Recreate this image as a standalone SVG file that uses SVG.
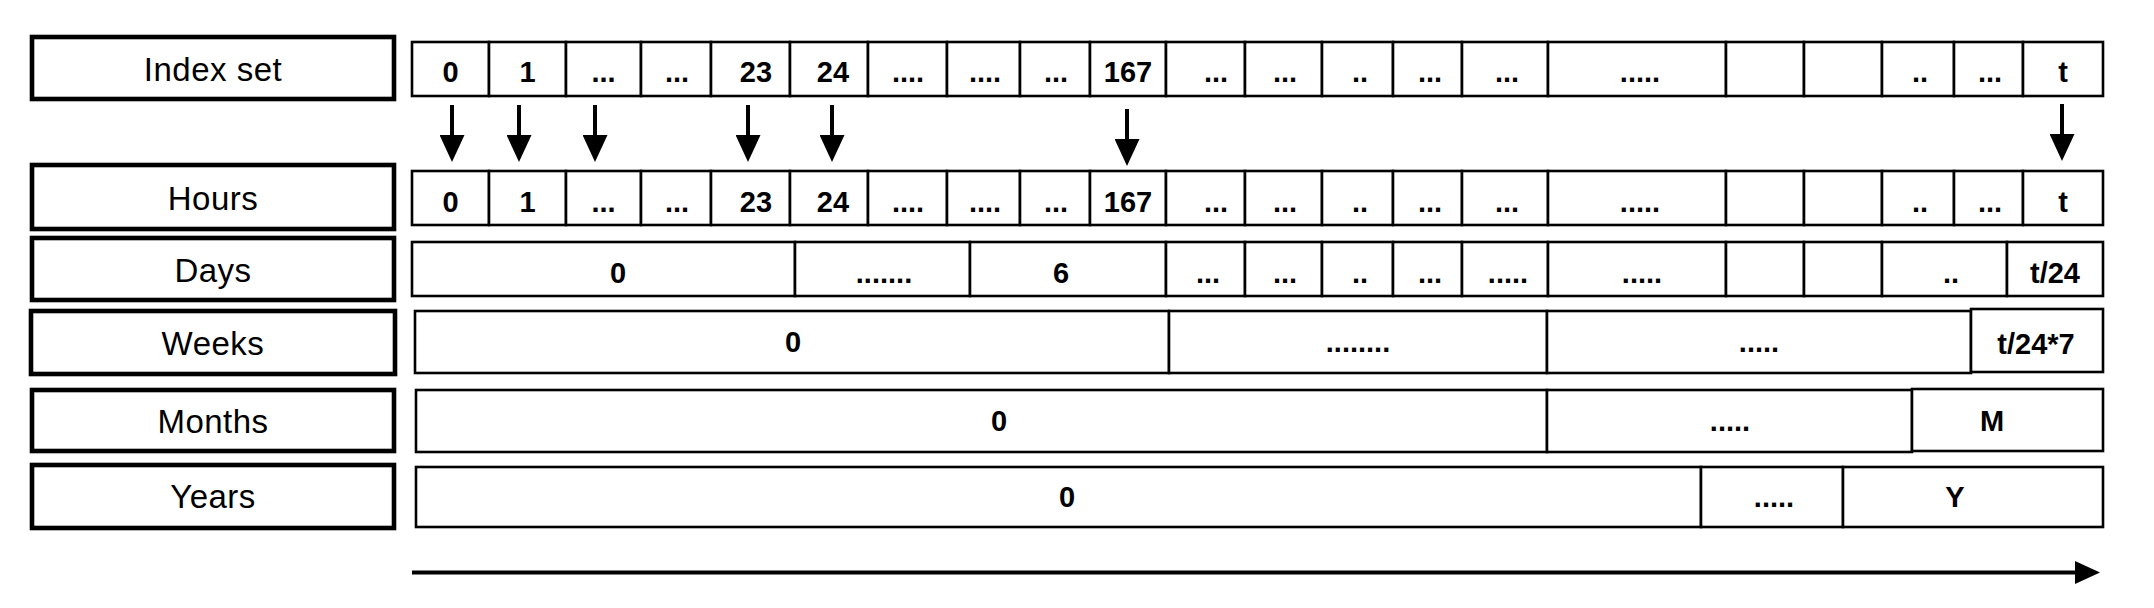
<svg xmlns="http://www.w3.org/2000/svg" width="2154" height="608" viewBox="0 0 2154 608">
<style>
.lb{fill:#fff;stroke:#000;stroke-width:4.6}
.c{fill:#fff;stroke:#000;stroke-width:2.6}
.lt{font-family:"Liberation Sans",Arial,Helvetica,sans-serif;font-size:33px;letter-spacing:0.5px;text-anchor:middle;fill:#000}
.v{font-family:"Liberation Sans",Arial,Helvetica,sans-serif;font-size:29px;font-weight:bold;text-anchor:middle;fill:#000}
.ar{stroke:#000;stroke-width:4;fill:none}
</style>
<defs>
<marker id="ah" markerUnits="userSpaceOnUse" markerWidth="27" markerHeight="25" refX="7" refY="12.5" orient="auto"><path d="M0,0 L27,12.5 L0,25 z" fill="#000"/></marker>
<marker id="ah2" markerUnits="userSpaceOnUse" markerWidth="25" markerHeight="23" refX="5" refY="11.5" orient="auto"><path d="M0,0 L25,11.5 L0,23 z" fill="#000"/></marker>
</defs>
<rect width="2154" height="608" fill="#fff"/>
<g id="label-index"><rect class="lb" x="32" y="37" width="362" height="62"/><text class="lt" x="213" y="81">Index set</text></g>
<g id="label-hours"><rect class="lb" x="32" y="165" width="362" height="64"/><text class="lt" x="213" y="210">Hours</text></g>
<g id="label-days"><rect class="lb" x="32" y="238" width="362" height="62"/><text class="lt" x="213" y="282">Days</text></g>
<g id="label-weeks"><rect class="lb" x="31" y="311" width="364" height="63"/><text class="lt" x="213" y="355">Weeks</text></g>
<g id="label-months"><rect class="lb" x="32" y="390" width="362" height="61"/><text class="lt" x="213" y="433">Months</text></g>
<g id="label-years"><rect class="lb" x="32" y="465" width="362" height="63"/><text class="lt" x="213" y="508">Years</text></g>
<g id="row-index">
<rect class="c" x="412" y="42" width="77" height="54"/><text class="v" x="450.5" y="82">0</text>
<rect class="c" x="489" y="42" width="77" height="54"/><text class="v" x="527.5" y="82">1</text>
<rect class="c" x="566" y="42" width="75" height="54"/><text class="v" x="603.5" y="82">...</text>
<rect class="c" x="641" y="42" width="70" height="54"/><text class="v" x="677" y="82">...</text>
<rect class="c" x="711" y="42" width="79" height="54"/><text class="v" x="756" y="82">23</text>
<rect class="c" x="790" y="42" width="78" height="54"/><text class="v" x="833" y="82">24</text>
<rect class="c" x="868" y="42" width="79" height="54"/><text class="v" x="908" y="82">....</text>
<rect class="c" x="947" y="42" width="73" height="54"/><text class="v" x="985" y="82">....</text>
<rect class="c" x="1020" y="42" width="70" height="54"/><text class="v" x="1056" y="82">...</text>
<rect class="c" x="1090" y="42" width="76" height="54"/><text class="v" x="1128" y="82">167</text>
<rect class="c" x="1166" y="42" width="79" height="54"/><text class="v" x="1216" y="82">...</text>
<rect class="c" x="1245" y="42" width="77" height="54"/><text class="v" x="1285" y="82">...</text>
<rect class="c" x="1322" y="42" width="71" height="54"/><text class="v" x="1360" y="82">..</text>
<rect class="c" x="1393" y="42" width="69" height="54"/><text class="v" x="1430" y="82">...</text>
<rect class="c" x="1462" y="42" width="86" height="54"/><text class="v" x="1507" y="82">...</text>
<rect class="c" x="1548" y="42" width="178" height="54"/><text class="v" x="1640" y="82">.....</text>
<rect class="c" x="1726" y="42" width="78" height="54"/>
<rect class="c" x="1804" y="42" width="78" height="54"/>
<rect class="c" x="1882" y="42" width="72" height="54"/><text class="v" x="1920" y="82">..</text>
<rect class="c" x="1954" y="42" width="69" height="54"/><text class="v" x="1990" y="82">...</text>
<rect class="c" x="2023" y="42" width="80" height="54"/><text class="v" x="2063" y="82">t</text>
</g>
<g id="row-hours">
<rect class="c" x="412" y="171" width="77" height="54"/><text class="v" x="450.5" y="212">0</text>
<rect class="c" x="489" y="171" width="77" height="54"/><text class="v" x="527.5" y="212">1</text>
<rect class="c" x="566" y="171" width="75" height="54"/><text class="v" x="603.5" y="212">...</text>
<rect class="c" x="641" y="171" width="70" height="54"/><text class="v" x="677" y="212">...</text>
<rect class="c" x="711" y="171" width="79" height="54"/><text class="v" x="756" y="212">23</text>
<rect class="c" x="790" y="171" width="78" height="54"/><text class="v" x="833" y="212">24</text>
<rect class="c" x="868" y="171" width="79" height="54"/><text class="v" x="908" y="212">....</text>
<rect class="c" x="947" y="171" width="73" height="54"/><text class="v" x="985" y="212">....</text>
<rect class="c" x="1020" y="171" width="70" height="54"/><text class="v" x="1056" y="212">...</text>
<rect class="c" x="1090" y="171" width="76" height="54"/><text class="v" x="1128" y="212">167</text>
<rect class="c" x="1166" y="171" width="79" height="54"/><text class="v" x="1216" y="212">...</text>
<rect class="c" x="1245" y="171" width="77" height="54"/><text class="v" x="1285" y="212">...</text>
<rect class="c" x="1322" y="171" width="71" height="54"/><text class="v" x="1360" y="212">..</text>
<rect class="c" x="1393" y="171" width="69" height="54"/><text class="v" x="1430" y="212">...</text>
<rect class="c" x="1462" y="171" width="86" height="54"/><text class="v" x="1507" y="212">...</text>
<rect class="c" x="1548" y="171" width="178" height="54"/><text class="v" x="1640" y="212">.....</text>
<rect class="c" x="1726" y="171" width="78" height="54"/>
<rect class="c" x="1804" y="171" width="78" height="54"/>
<rect class="c" x="1882" y="171" width="72" height="54"/><text class="v" x="1920" y="212">..</text>
<rect class="c" x="1954" y="171" width="69" height="54"/><text class="v" x="1990" y="212">...</text>
<rect class="c" x="2023" y="171" width="80" height="54"/><text class="v" x="2063" y="212">t</text>
</g>
<g id="row-days">
<rect class="c" x="412" y="242" width="383" height="54"/><text class="v" x="618" y="283">0</text>
<rect class="c" x="795" y="242" width="175" height="54"/><text class="v" x="884" y="283">.......</text>
<rect class="c" x="970" y="242" width="196" height="54"/><text class="v" x="1061" y="283">6</text>
<rect class="c" x="1166" y="242" width="79" height="54"/><text class="v" x="1208" y="283">...</text>
<rect class="c" x="1245" y="242" width="77" height="54"/><text class="v" x="1285" y="283">...</text>
<rect class="c" x="1322" y="242" width="71" height="54"/><text class="v" x="1360" y="283">..</text>
<rect class="c" x="1393" y="242" width="69" height="54"/><text class="v" x="1430" y="283">...</text>
<rect class="c" x="1462" y="242" width="86" height="54"/><text class="v" x="1508" y="283">.....</text>
<rect class="c" x="1548" y="242" width="178" height="54"/><text class="v" x="1642" y="283">.....</text>
<rect class="c" x="1726" y="242" width="78" height="54"/>
<rect class="c" x="1804" y="242" width="78" height="54"/>
<rect class="c" x="1882" y="242" width="125" height="54"/><text class="v" x="1951" y="283">..</text>
<rect class="c" x="2007" y="242" width="96" height="54"/><text class="v" x="2055" y="283">t/24</text>
</g>
<g id="row-weeks">
<rect class="c" x="415" y="311" width="754" height="62"/><text class="v" x="793" y="352">0</text>
<rect class="c" x="1169" y="311" width="378" height="62"/><text class="v" x="1358" y="352">........</text>
<rect class="c" x="1547" y="311" width="424" height="62"/><text class="v" x="1759" y="352">.....</text>
<rect class="c" x="1971" y="309" width="132" height="63"/><text class="v" x="2036" y="354">t/24*7</text>
</g>
<g id="row-months">
<rect class="c" x="416" y="390" width="1131" height="62"/><text class="v" x="999" y="431">0</text>
<rect class="c" x="1547" y="390" width="365" height="62"/><text class="v" x="1730" y="431">.....</text>
<rect class="c" x="1912" y="389" width="191" height="62"/><text class="v" x="1992" y="431">M</text>
</g>
<g id="row-years">
<rect class="c" x="416" y="467" width="1285" height="60"/><text class="v" x="1067" y="507">0</text>
<rect class="c" x="1701" y="467" width="142" height="60"/><text class="v" x="1774" y="507">.....</text>
<rect class="c" x="1843" y="467" width="260" height="60"/><text class="v" x="1955" y="507">Y</text>
</g>
<g id="connectors">
<line class="ar" x1="452" y1="105" x2="452" y2="142" marker-end="url(#ah)"/>
<line class="ar" x1="519" y1="105" x2="519" y2="142" marker-end="url(#ah)"/>
<line class="ar" x1="595" y1="105" x2="595" y2="142" marker-end="url(#ah)"/>
<line class="ar" x1="748" y1="105" x2="748" y2="142" marker-end="url(#ah)"/>
<line class="ar" x1="832" y1="105" x2="832" y2="142" marker-end="url(#ah)"/>
<line class="ar" x1="1127" y1="109" x2="1127" y2="146" marker-end="url(#ah)"/>
<line class="ar" x1="2062" y1="104" x2="2062" y2="141" marker-end="url(#ah)"/>
<line class="ar" x1="412" y1="572.5" x2="2080" y2="572.5" stroke-width="4.6" marker-end="url(#ah2)"/>
</g>
</svg>
